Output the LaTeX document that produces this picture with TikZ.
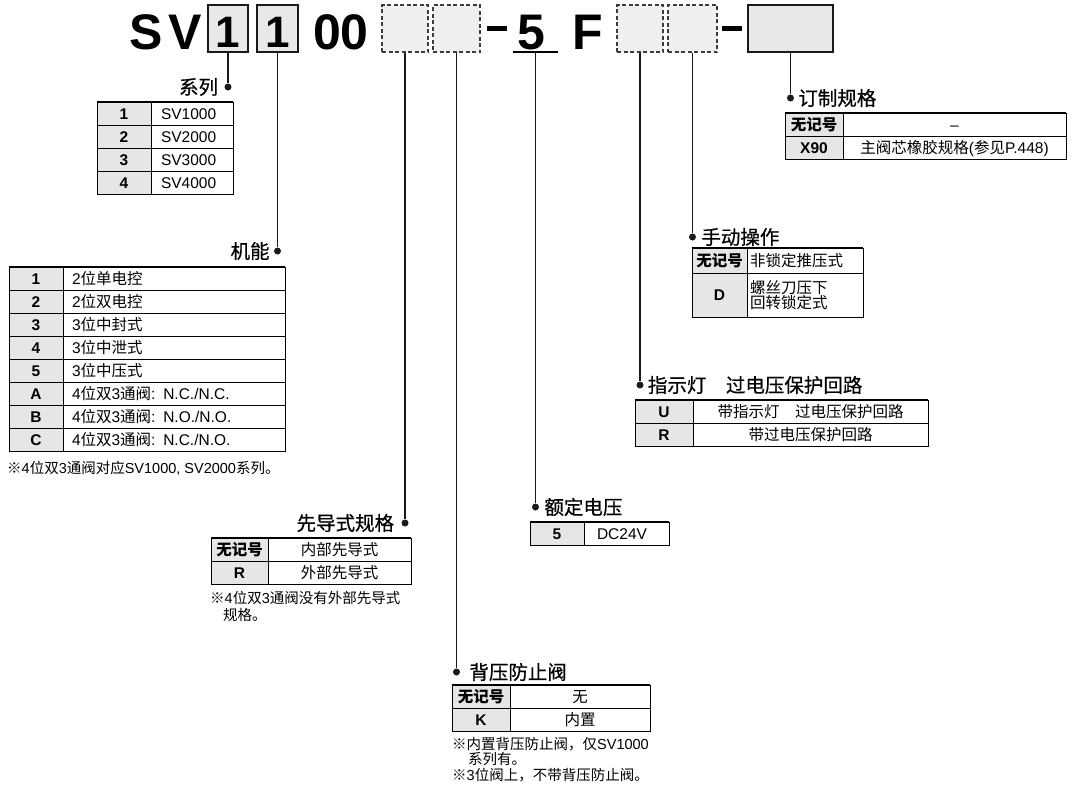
\documentclass[tikz,border=0pt]{standalone}
\usepackage{fontspec}
\setmainfont{Liberation Sans}
\newfontfamily\zhfont{Noto Sans CJK SC}
\newfontfamily\zhlblfont[FakeBold=0.6]{Noto Sans CJK SC}
\usetikzlibrary{positioning}
\definecolor{svkey}{HTML}{E6E6E6}
\definecolor{svbox}{HTML}{E8E8E8}
\definecolor{svslot}{HTML}{EFEFEF}
\definecolor{svline}{HTML}{1A1A1A}
\newcommand{\zh}[1]{{\zhfont #1}}
\newcommand{\tabfont}{\fontsize{15.5pt}{18pt}\selectfont}

\begin{document}
\begin{tikzpicture}[x=1pt, y=-1pt,
  codebox/.style={draw=svline, line width=2pt, fill=svbox, inner sep=0pt, minimum height=47pt},
  slotbox/.style={draw=svline!85, line width=1.8pt, dash pattern=on 4pt off 2.5pt, fill=svslot, inner sep=0pt, minimum height=47pt},
  codechar/.style={font=\fontsize{50pt}{50pt}\selectfont\bfseries, inner sep=0pt, anchor=base},
  boxchar/.style={font=\fontsize{44pt}{44pt}\selectfont\bfseries, inner sep=0pt, anchor=base},
  codedash/.style={fill=black, inner sep=0pt, minimum width=20pt, minimum height=5pt},
  lead/.style={line width=1.5pt, svline},
  leaddot/.style={circle, fill=svline, inner sep=0pt, minimum size=7pt},
  lbl/.style={font=\zhlblfont\fontsize{19.5pt}{22pt}\selectfont, inner sep=0pt},
  keycell/.style={draw, line width=0.7pt, fill=svkey, inner sep=0pt, font=\tabfont\bfseries, text height=12.5pt, text depth=1.4pt},
  valcell/.style={draw, line width=0.7pt, fill=white, inner sep=0pt, font=\tabfont, text height=12.5pt, text depth=1.4pt},
  tallcell/.style={draw, line width=0.7pt, fill=white, inner sep=0pt, font=\zhfont\fontsize{15.5pt}{15.5pt}\selectfont},
  topline/.style={line width=1.6pt},
  note/.style={font=\fontsize{14.5pt}{17pt}\selectfont, inner sep=0pt, anchor=west}]
  \useasboundingbox (0,0) rectangle (1076,788);

  % model code
  \node[codebox, minimum width=40pt] (ser) at (228,28.5) {};
  \node[codebox, minimum width=41pt] (fun) at (277.5,28.5) {};
  \node[slotbox, minimum width=46pt] (pil) at (405,28.5) {};
  \node[slotbox, minimum width=47pt] (chk) at (456.5,28.5) {};
  \node[slotbox, minimum width=46pt] (lamp) at (640,28.5) {};
  \node[slotbox, minimum width=49pt] (man) at (692.5,28.5) {};
  \node[codebox, minimum width=85pt] (opt) at (790.5,28.5) {};
  \node[boxchar] (serch) at (228,47) {1};
  \node[boxchar] (funch) at (277.5,47) {1};
  \foreach \c/\x [count=\n] in {S/146,V/185,0/327,0/354,5/531,F/588}
    \node[codechar] (ch\n) at (\x,49) {\c};
  \node[codedash] (dash1) at (497,28.5) {};
  \node[codedash] (dash2) at (732,28.5) {};
  \draw[line width=1.5pt] (513,52) -- (558,52);
  \coordinate (volt) at (535.5,52);

  % leads and dots
  \node[leaddot] (serdot) at (228,87) {};
  \node[leaddot] (fundot) at (277.5,251) {};
  \node[leaddot] (pildot) at (405,523) {};
  \node[leaddot] (chkdot) at (456.5,672) {};
  \node[leaddot] (voltdot) at (535.5,507) {};
  \node[leaddot] (lampdot) at (640,385) {};
  \node[leaddot] (mandot) at (692.5,237) {};
  \node[leaddot] (optdot) at (790.5,98) {};
  \draw[lead] (ser.south) -- (serdot);
  \draw[lead] (fun.south) -- (fundot);
  \draw[lead] (pil.south) -- (pildot);
  \draw[lead] (chk.south) -- (chkdot);
  \draw[lead] (volt) -- (voltdot);
  \draw[lead] (lamp.south) -- (lampdot);
  \draw[lead] (man.south) -- (mandot);
  \draw[lead] (opt.south) -- (optdot);

  % labels
  \node[lbl, left=6pt of serdot] (serlbl) {系列};
  \node[lbl, left=4pt of fundot] (funlbl) {机能};
  \node[lbl, left=7pt of pildot] (pillbl) {先导式规格};
  \node[lbl, right=9pt of chkdot] (chklbl) {背压防止阀};
  \node[lbl, right=5pt of voltdot] (voltlbl) {额定电压};
  \node[lbl, right=4pt of lampdot] (lamplbl) {指示灯　过电压保护回路};
  \node[lbl, right=5pt of mandot] (manlbl) {手动操作};
  \node[lbl, right=4pt of optdot] (optlbl) {订制规格};

  % series table
  \foreach \k/\v [count=\i from 0] in {1/SV1000,2/SV2000,3/SV3000,4/SV4000} {
    \node[keycell, minimum width=54pt, minimum height=23pt] (serk\i) at (124,113.5+23*\i) {\k};
    \node[valcell, minimum width=82pt, minimum height=23pt, text width=62pt, align=left] (serv\i) at (192,113.5+23*\i) {\v};
  }
  \draw[topline] (serk0.north west) -- (serv0.north east);

  % function table
  \foreach \k/\v [count=\i from 0] in {1/{2\zh{位单电控}},2/{2\zh{位双电控}},3/{3\zh{位中封式}},4/{3\zh{位中泄式}},5/{3\zh{位中压式}},
      A/{4\zh{位双}3\zh{通阀}: N.C./N.C.},B/{4\zh{位双}3\zh{通阀}: N.O./N.O.},C/{4\zh{位双}3\zh{通阀}: N.C./N.O.}} {
    \node[keycell, minimum width=54pt, minimum height=23pt] (funk\i) at (36,278.5+23*\i) {\k};
    \node[valcell, minimum width=222pt, minimum height=23pt, text width=204pt, align=left] (funv\i) at (174,278.5+23*\i) {\v};
  }
  \draw[topline] (funk0.north west) -- (funv0.north east);
  \node[note] (funnote) at (7,468) {\zh{※}4\zh{位双}3\zh{通阀对应}SV1000, SV2000\zh{系列。}};

  % option table
  \foreach \k/\v [count=\i from 0] in {{\zh{无记号}}/–,X90/{\zh{主阀芯橡胶规格}(\zh{参见}P.448)}} {
    \node[keycell, minimum width=58pt, minimum height=23pt] (optk\i) at (814,124.5+23*\i) {\k};
    \node[valcell, minimum width=223pt, minimum height=23pt] (optv\i) at (954.5,124.5+23*\i) {\v};
  }
  \draw[topline] (optk0.north west) -- (optv0.north east);

  % manual override table
  \node[keycell, minimum width=55pt, minimum height=25pt] (mank0) at (719.5,260.5) {\zh{无记号}};
  \node[valcell, minimum width=116pt, minimum height=25pt, text width=110pt, align=left] (manv0) at (805,260.5) {\zh{非锁定推压式}};
  \node[keycell, minimum width=55pt, minimum height=44pt] (mank1) at (719.5,295) {D};
  \node[tallcell, minimum width=116pt, minimum height=44pt, text width=110pt, align=left] (manv1) at (805,295) {螺丝刀压下\\回转锁定式};
  \draw[topline] (mank0.north west) -- (manv0.north east);

  % lamp table
  \foreach \k/\v [count=\i from 0] in {U/{\zh{带指示灯　过电压保护回路}},R/{\zh{带过电压保护回路}}} {
    \node[keycell, minimum width=58pt, minimum height=23pt] (lampk\i) at (664,411.5+23*\i) {\k};
    \node[valcell, minimum width=235pt, minimum height=23pt] (lampv\i) at (810.5,411.5+23*\i) {\v};
  }
  \draw[topline] (lampk0.north west) -- (lampv0.north east);

  % pilot table
  \foreach \k/\v [count=\i from 0] in {{\zh{无记号}}/{\zh{内部先导式}},R/{\zh{外部先导式}}} {
    \node[keycell, minimum width=57pt, minimum height=23pt] (pilk\i) at (239.5,549.5+23*\i) {\k};
    \node[valcell, minimum width=143pt, minimum height=23pt] (pilv\i) at (339.5,549.5+23*\i) {\v};
  }
  \draw[topline] (pilk0.north west) -- (pilv0.north east);
  \node[note] (pilnote1) at (210,598) {\zh{※}4\zh{位双}3\zh{通阀没有外部先导式}};
  \node[note] (pilnote2) at (223,615) {\zh{规格。}};

  % voltage table
  \node[keycell, minimum width=54pt, minimum height=23pt] (voltk0) at (557,533.5) {5};
  \node[valcell, minimum width=85pt, minimum height=23pt, text width=59pt, align=left] (voltv0) at (626.5,533.5) {DC24V};
  \draw[topline] (voltk0.north west) -- (voltv0.north east);

  % check valve table
  \foreach \k/\v [count=\i from 0] in {{\zh{无记号}}/{\zh{无}},K/{\zh{内置}}} {
    \node[keycell, minimum width=58pt, minimum height=23pt] (chkk\i) at (481,696.5+23*\i) {\k};
    \node[valcell, minimum width=140pt, minimum height=23pt] (chkv\i) at (580,696.5+23*\i) {\v};
  }
  \draw[topline] (chkk0.north west) -- (chkv0.north east);
  \node[note] (chknote1) at (452,744) {\zh{※内置背压防止阀，仅}SV1000};
  \node[note] (chknote2) at (468,759) {\zh{系列有。}};
  \node[note] (chknote3) at (452,775) {\zh{※}3\zh{位阀上，不带背压防止阀。}};
\end{tikzpicture}
\end{document}
